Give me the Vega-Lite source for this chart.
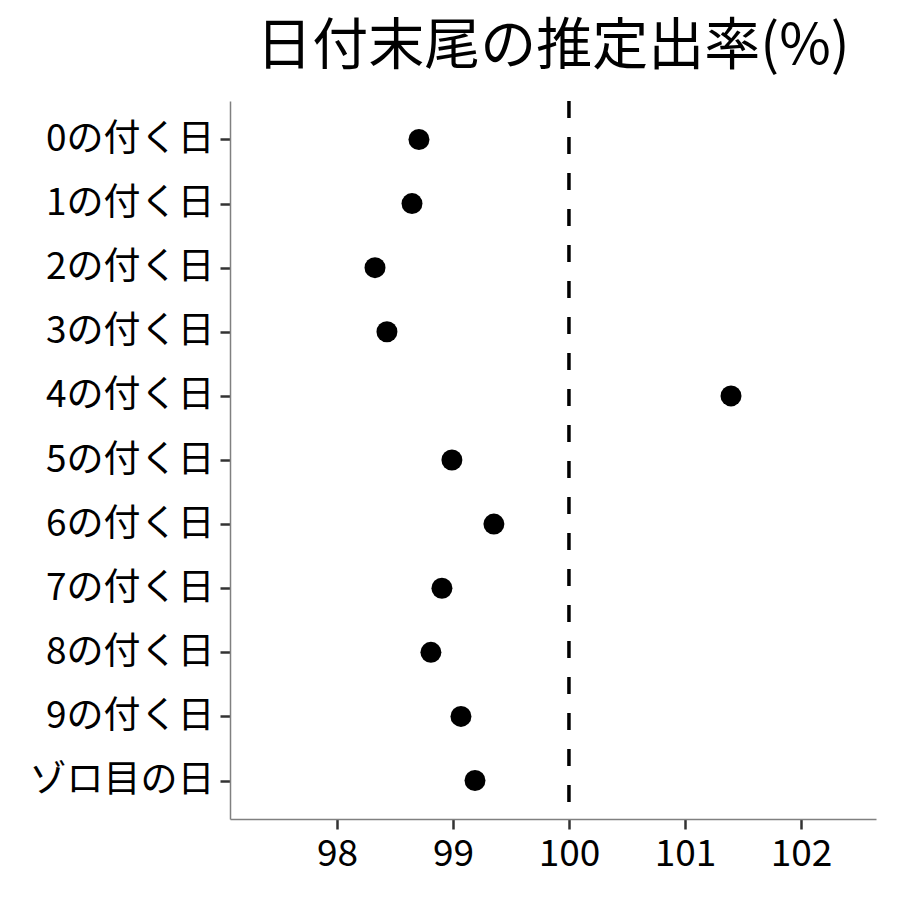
{
  "$schema": "https://vega.github.io/schema/vega-lite/v6.json",
  "width": 646,
  "height": 718,
  "autosize": {"type": "none"},
  "padding": {"left": 230, "top": 101, "right": 24, "bottom": 81},
  "background": "white",
  "title": {
    "text": "日付末尾の推定出率(%)",
    "font": "Noto Sans CJK JP",
    "fontSize": 56,
    "fontWeight": "normal",
    "color": "black",
    "anchor": "middle",
    "frame": "group",
    "offset": 23
  },
  "config": {
    "view": {"stroke": null},
    "font": "Noto Sans CJK JP"
  },
  "data": {
    "values": [
      {"label": "0の付く日", "rate": 98.707},
      {"label": "1の付く日", "rate": 98.647},
      {"label": "2の付く日", "rate": 98.328},
      {"label": "3の付く日", "rate": 98.431},
      {"label": "4の付く日", "rate": 101.397},
      {"label": "5の付く日", "rate": 98.991},
      {"label": "6の付く日", "rate": 99.353},
      {"label": "7の付く日", "rate": 98.905},
      {"label": "8の付く日", "rate": 98.810},
      {"label": "9の付く日", "rate": 99.069},
      {"label": "ゾロ目の日", "rate": 99.190}
    ]
  },
  "layer": [
    {
      "data": {"values": [{"ref": 100}]},
      "mark": {"type": "rule", "color": "black", "strokeWidth": 3.5, "strokeDash": [17, 19]},
      "encoding": {
        "x": {"field": "ref", "type": "quantitative", "scale": {"domain": [97.078, 102.647], "nice": false, "zero": false}}
      }
    },
    {
      "mark": {"type": "circle", "color": "black", "opacity": 1, "size": 440},
      "encoding": {
        "x": {
          "field": "rate",
          "type": "quantitative",
          "title": null,
          "scale": {"domain": [97.078, 102.647], "nice": false, "zero": false},
          "axis": {
            "values": [98, 99, 100, 101, 102],
            "format": "d",
            "grid": false,
            "domainColor": "#808080",
            "domainWidth": 1.5,
            "tickColor": "#333333",
            "tickWidth": 2.5,
            "tickSize": 10,
            "labelFont": "Noto Sans CJK JP",
            "labelFontSize": 37,
            "labelColor": "black",
            "labelPadding": 7
          }
        },
        "y": {
          "field": "label",
          "type": "ordinal",
          "title": null,
          "sort": null,
          "scale": {"type": "point", "padding": 0.6},
          "axis": {
            "grid": false,
            "domainColor": "#808080",
            "domainWidth": 1.5,
            "tickColor": "#333333",
            "tickWidth": 2.5,
            "tickSize": 10,
            "labelFont": "Noto Sans CJK JP",
            "labelFontSize": 37,
            "labelColor": "black",
            "labelPadding": 6,
            "labelLimit": 0
          }
        }
      }
    }
  ]
}
